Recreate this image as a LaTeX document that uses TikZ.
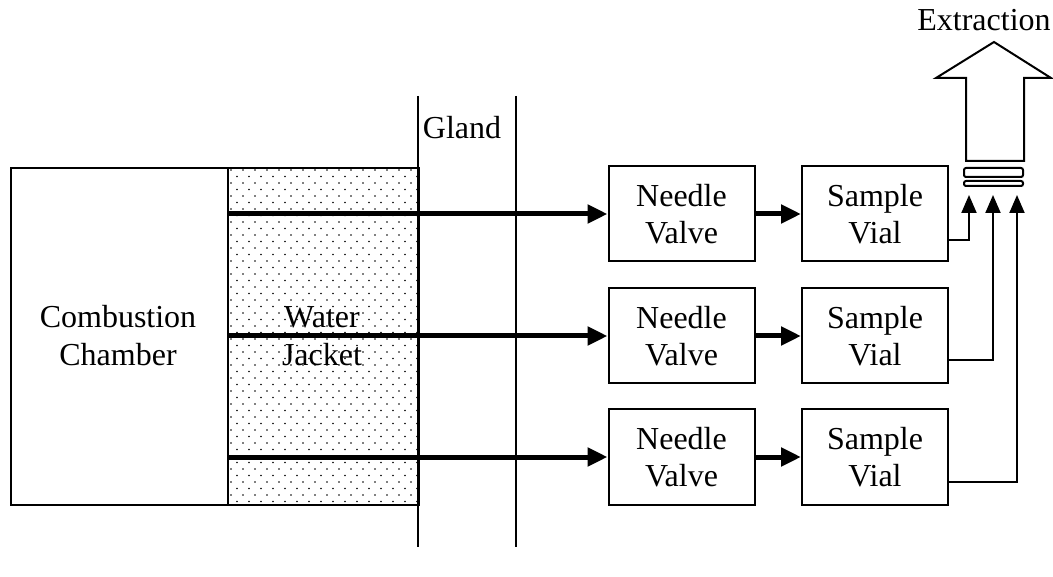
\documentclass[tikz,border=0pt]{standalone}
\usepackage{fontspec}
\setmainfont{Liberation Serif}
\usetikzlibrary{arrows.meta,calc}
\begin{document}
\begin{tikzpicture}[x=1pt,y=-1pt,
  box/.style={draw,line width=2pt,minimum width=146pt,minimum height=95pt,align=center,font=\fontsize{32}{37}\selectfont,inner sep=0pt},
  thickarrow/.style={line width=5pt,-{Triangle[length=20pt,width=18pt]}},
  thinarrow/.style={line width=2pt,-{Triangle[length=18pt,width=15pt]}},
  lbl/.style={font=\fontsize{32}{38}\selectfont,align=center,inner sep=0pt}]
\useasboundingbox (0,0) rectangle (1053,577);
% water jacket dots
\foreach \r in {0,...,51}{
  \pgfmathsetmacro{\yy}{170+\r*6.5}
  \pgfmathsetmacro{\off}{mod(\r,2)*6}
  \foreach \c in {0,...,15}{
    \pgfmathsetmacro{\xx}{231+\off+\c*12}
    \fill (\xx,\yy) circle (0.9pt);
  }
}
\node[draw,line width=2pt,minimum width=217pt,minimum height=337pt,anchor=north west,inner sep=0pt] (cc) at (10,167) {};
\node[lbl] at (118,336) {Combustion\\Chamber};
\node[draw,line width=2pt,minimum width=191pt,minimum height=337pt,anchor=north west,inner sep=0pt] (wj) at (227,167) {};
\node[lbl] at (322,336) {Water\\Jacket};
% gland
\coordinate (g1t) at (418,96); \coordinate (g1b) at (418,547);
\coordinate (g2t) at (516,96); \coordinate (g2b) at (516,547);
\draw[line width=2pt] (g1t) -- (g1b);
\draw[line width=2pt] (g2t) -- (g2b);
\node[lbl] (gland) at (462,128) {Gland};
% boxes
\foreach \i/\y in {1/214,2/336,3/457}{
  \node[box] (nv\i) at (681.5,\y) {Needle\\Valve};
  \node[box] (sv\i) at (875,\y) {Sample\\Vial};
  \coordinate (s\i) at (227,\y);
  \draw[thickarrow] (s\i) -- (nv\i.west);
  \draw[thickarrow] (nv\i.east) -- (sv\i.west);
}
% extraction
\coordinate (t1) at (969,195);
\coordinate (t2) at (993,195);
\coordinate (t3) at (1017,195);
\draw[thinarrow] ($(sv1.east)+(0,26)$) -| (t1);
\draw[thinarrow] ($(sv2.east)+(0,24)$) -| (t2);
\draw[thinarrow] ($(sv3.east)+(0,25)$) -| (t3);
\draw[line width=2pt,rounded corners=2pt] (964,168) rectangle (1023,177);
\draw[line width=2pt,rounded corners=2pt] (964,181) rectangle (1023,186);
\draw[line width=2pt,line join=miter] (966,161) -- (966,78) -- (936,78) -- (994,42) -- (1051,78) -- (1024,78) -- (1024,161) -- cycle;
\node[lbl] (ext) at (984,20) {Extraction};
\end{tikzpicture}
\end{document}
